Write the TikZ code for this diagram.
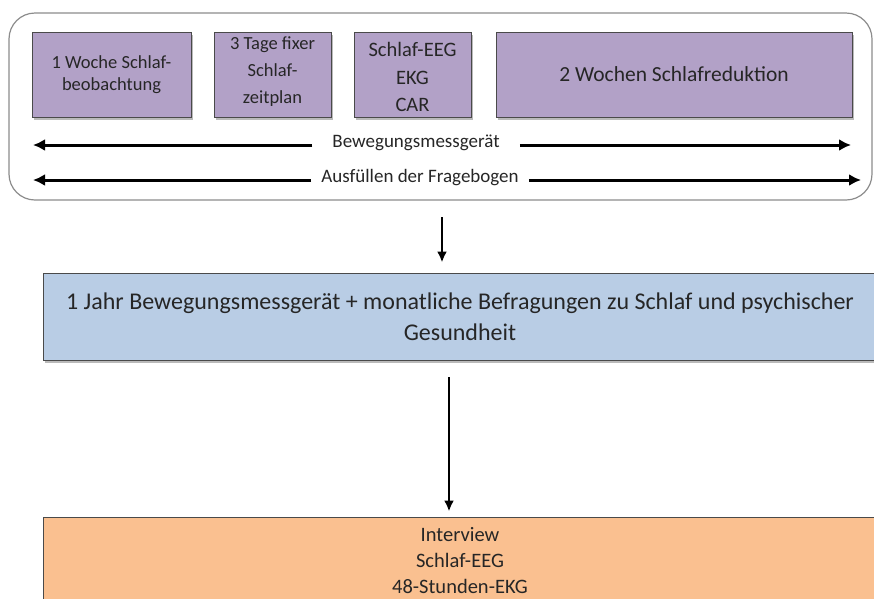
\documentclass[tikz,border=0pt]{standalone}
\usepackage{fontspec}
\setmainfont{Carlito}
\usetikzlibrary{arrows.meta,shadows}
\definecolor{purplefill}{HTML}{B2A1C7}
\definecolor{bluefill}{HTML}{B9CDE5}
\definecolor{orangefill}{HTML}{FAC090}
\definecolor{boxline}{HTML}{4A4A4A}
\definecolor{outerline}{HTML}{8C8C8C}
\definecolor{txt}{HTML}{262626}
\tikzset{
  boxshadow/.style={drop shadow={shadow xshift=1.5pt,shadow yshift=-2.5pt,opacity=.45,fill=black!60}},
  pbox/.style={draw=boxline,line width=1pt,fill=purplefill,boxshadow,align=center,inner sep=0pt,
    text=txt,font=\fontsize{18.5}{22}\selectfont},
  bbox/.style={draw=boxline,line width=1pt,fill=bluefill,boxshadow,align=center,inner sep=0pt,
    text=txt,font=\fontsize{24}{31}\selectfont},
  obox/.style={draw=boxline,line width=1pt,fill=orangefill,boxshadow,align=center,inner sep=0pt,
    text=txt,font=\fontsize{20.5}{26}\selectfont},
  lbl/.style={fill=white,inner xsep=20pt,inner ysep=2pt,text=txt,font=\fontsize{19}{20}\selectfont},
  harr/.style={line width=3pt,-{Latex[length=12pt,width=12pt]}},
  varr/.style={line width=2.4pt,-{Latex[length=11pt,width=10pt]}},
}
\begin{document}
\begin{tikzpicture}[x=1pt,y=-1pt]
\useasboundingbox (0,0) rectangle (874,598);
\clip (0,0) rectangle (874,598);
% outer frame
\node[draw=outerline,line width=1.2pt,rounded corners=26pt,minimum width=863pt,minimum height=187pt,inner sep=0pt] (outer) at (440.5,106.5) {};
% purple boxes
\node[pbox,minimum width=159pt,minimum height=85pt] (b1) at (111.5,74.5) {1 Woche Schlaf-\\beobachtung};
\node[pbox,minimum width=117pt,minimum height=85pt,font=\fontsize{18.5}{27}\selectfont] (b2) at (272.5,74.5) {3 Tage fixer\\Schlaf-\\zeitplan\rule[-9pt]{0pt}{9pt}};
\node[pbox,minimum width=117pt,minimum height=85pt,font=\fontsize{20.5}{27.5}\selectfont] (b3) at (412.5,74.5) {\rule{0pt}{19.5pt}Schlaf-EEG\\EKG\\CAR};
\node[pbox,minimum width=356pt,minimum height=85pt,font=\fontsize{21.5}{26}\selectfont] (b4) at (674,74.5) {2 Wochen Schlafreduktion};
% horizontal arrows
\node[lbl] (bew) at (416,143) {Bewegungsmessgerät};
\coordinate (bewL) at (33,145);
\coordinate (bewR) at (851,145);
\draw[harr] (bew.west |- bewL) -- (bewL);
\draw[harr] (bew.east |- bewR) -- (bewR);
\node[lbl,inner xsep=10pt] (aus) at (420,178) {Ausfüllen der Fragebogen};
\coordinate (ausL) at (33,180);
\coordinate (ausR) at (861,180);
\draw[harr] (aus.west |- ausL) -- (ausL);
\draw[harr] (aus.east |- ausR) -- (ausR);
% blue box
\node[bbox,minimum width=834pt,minimum height=87pt] (blue) at (460,316.5) {1 Jahr Bewegungsmessgerät + monatliche Befragungen zu Schlaf und psychischer\\Gesundheit};
% orange box
\node[obox,minimum width=834pt,minimum height=88pt] (orange) at (460,561) {Interview\\Schlaf-EEG\\48-Stunden-EKG};
% vertical arrows
\coordinate (d1) at (442,217);
\draw[varr,shorten >=10pt] (d1) -- (d1 |- blue.north);
\coordinate (d2) at (449,377);
\draw[varr,shorten >=5pt] (d2) -- (d2 |- orange.north);
\end{tikzpicture}
\end{document}
